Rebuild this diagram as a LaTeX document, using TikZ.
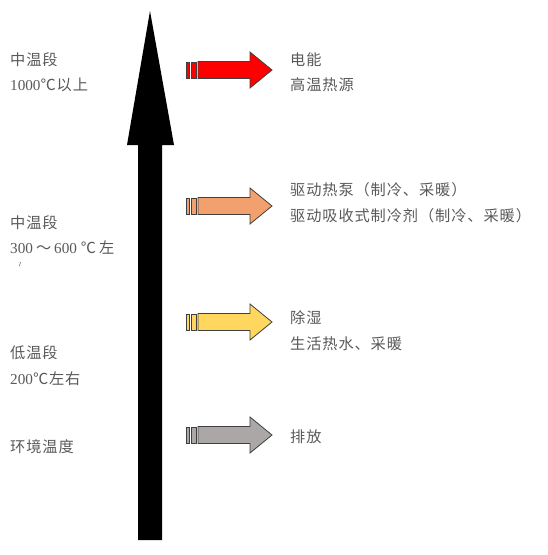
\documentclass[tikz,border=0pt]{standalone}
\usepackage{fontspec}
\setmainfont{Liberation Serif}
\newfontfamily\cjk[LetterSpace=6]{Noto Sans CJK SC}
\definecolor{txtgray}{HTML}{595959}
\definecolor{edgegray}{HTML}{3F3F3F}
\definecolor{heatred}{HTML}{FF0000}
\definecolor{heatorange}{HTML}{F2A06E}
\definecolor{heatyellow}{HTML}{FFD75E}
\definecolor{heatgray}{HTML}{ABA7A6}
\tikzset{%
  band/.style = {anchor=west, align=left, inner sep=0pt,
    text=txtgray, font=\fontsize{15.2}{25.5}\selectfont},
  heat/.pic = {
    \path[pic actions, draw=edgegray, line width=0.8pt] (0,-8) rectangle (3.5,8);
    \path[pic actions, draw=edgegray, line width=0.8pt] (5.5,-8) rectangle (10,8);
    \path[pic actions, draw=edgegray, line width=0.8pt]
      (12,-8.5) -- (64,-8.5) -- (64,-18) -- (86,0) -- (64,18) -- (64,8.5) -- (12,8.5) -- cycle;
  }
}

\begin{document}
\begin{tikzpicture}[x=1pt, y=-1pt]
  \useasboundingbox (0,0) rectangle (547,555);

  % temperature axis
  \fill[black] (138,540) -- (138,145) -- (127,145) -- (150,11)
    -- (174,145) -- (162,145) -- (162,540) -- cycle;

  % temperature bands
  \node[band] (band-high) at (10,72) {{\cjk 中温段}\\1000{\cjk ℃以上}};
  \node[band] (band-mid) at (10,235)
    {{\cjk 中温段}\\300\hspace{3pt}{\cjk ～}\hspace{3pt}600\hspace{4pt}{\cjk ℃}\hspace{3pt}{\cjk 左}};
  \draw[txtgray, line width=0.6pt] (20.5,262) -- (19.5,266);
  \node[band] (band-low) at (10,365.5) {{\cjk 低温段}\\200{\cjk ℃左右}};
  \node[band] (band-env) at (10,447) {\cjk 环境温度};

  % heat flows
  \pic[fill=heatred] (flow-high) at (186,70) {heat};
  \pic[fill=heatorange] (flow-mid) at (186,206) {heat};
  \pic[fill=heatyellow] (flow-low) at (186,322) {heat};
  \pic[fill=heatgray] (flow-env) at (186,435) {heat};

  % uses
  \node[band] (use-high) at (290,72) {{\cjk 电能}\\{\cjk 高温热源}};
  \node[band] (use-mid) at (290,202.5)
    {{\cjk 驱动热泵（制冷、采暖）}\\{\cjk 驱动吸收式制冷剂（制冷、采暖）}};
  \node[band] (use-low) at (290,330.5) {{\cjk 除湿}\\{\cjk 生活热水、采暖}};
  \node[band] (use-env) at (290,437) {\cjk 排放};
\end{tikzpicture}
\end{document}
